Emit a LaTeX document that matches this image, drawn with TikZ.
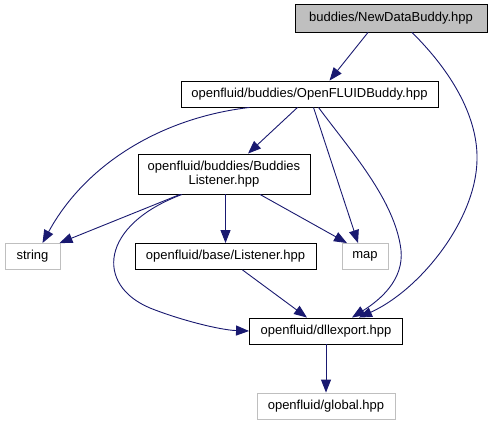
\documentclass[tikz,border=0pt]{standalone}
\usepackage{fontspec}
\setmainfont{Liberation Sans}
\usetikzlibrary{arrows.meta}
\definecolor{edgeblue}{RGB}{25,25,112}
\definecolor{boxgray}{RGB}{191,191,191}

\begin{document}
\begin{tikzpicture}[
  x=1pt, y=-1pt,
  file/.style={draw=black, line width=0.9pt, fill=white, inner sep=0pt,
               minimum height=26pt, align=center, font=\fontsize{13}{14}\selectfont},
  root/.style={file, fill=boxgray},
  ext/.style={file, draw=boxgray},
  dep/.style={-{Triangle[length=13pt,width=10pt]}, draw=edgeblue, line width=0.9pt}
]
\useasboundingbox (0,0) rectangle (492,425);
\node[root, minimum width=192pt, minimum height=28pt] (newdata) at (391,18) {buddies/NewDataBuddy.hpp};
\node[file, minimum width=257pt] (ofbuddy) at (309.5,94) {openfluid/buddies/OpenFLUIDBuddy.hpp};
\node[file, minimum width=172pt, minimum height=40pt] (buddylistener) at (224,174) {openfluid/buddies/Buddies\\Listener.hpp};
\node[ext, minimum width=55pt] (string) at (32.5,256.5) {string};
\node[file, minimum width=181pt] (listener) at (225.5,256.5) {openfluid/base/Listener.hpp};
\node[ext, minimum width=46pt] (map) at (365,256.5) {map};
\node[file, minimum width=153pt] (dllexport) at (326,331) {openfluid/dllexport.hpp};
\node[ext, minimum width=138pt] (global) at (326,406) {openfluid/global.hpp};
\draw[dep] ([xshift=-23pt]newdata.south) -- ([xshift=20pt]ofbuddy.north);
\draw[dep] ([xshift=21pt]newdata.south) .. controls (455,75) and (478,120) .. (477,160)
  .. controls (476,220) and (420,290) .. ([xshift=33pt]dllexport.north);
\draw[dep] ([xshift=-60pt]ofbuddy.south) .. controls (160,118) and (85,165) .. ([xshift=10pt]string.north);
\draw[dep] ([xshift=-12pt]ofbuddy.south) -- ([xshift=24pt]buddylistener.north);
\draw[dep] ([xshift=4pt]ofbuddy.south) -- ([xshift=-7pt]map.north);
\draw[dep] ([xshift=9pt]ofbuddy.south) .. controls (350,150) and (395,200) .. (401,250)
  .. controls (404,280) and (380,300) .. ([xshift=26pt]dllexport.north);
\draw[dep] ([xshift=-44pt]buddylistener.south) -- ([xshift=27pt]string.north);
\draw[dep] ([xshift=1.5pt]buddylistener.south) -- (listener.north);
\draw[dep] ([xshift=36pt]buddylistener.south) -- ([xshift=-18pt]map.north);
\draw[dep] ([xshift=-42pt]buddylistener.south) .. controls (100,225) and (95,285) .. (150,308)
  .. controls (180,320) and (220,330) .. (dllexport.west);
\draw[dep] ([xshift=17pt]listener.south) -- ([xshift=-19pt]dllexport.north);
\draw[dep] (dllexport) -- (global);
\end{tikzpicture}
\end{document}
